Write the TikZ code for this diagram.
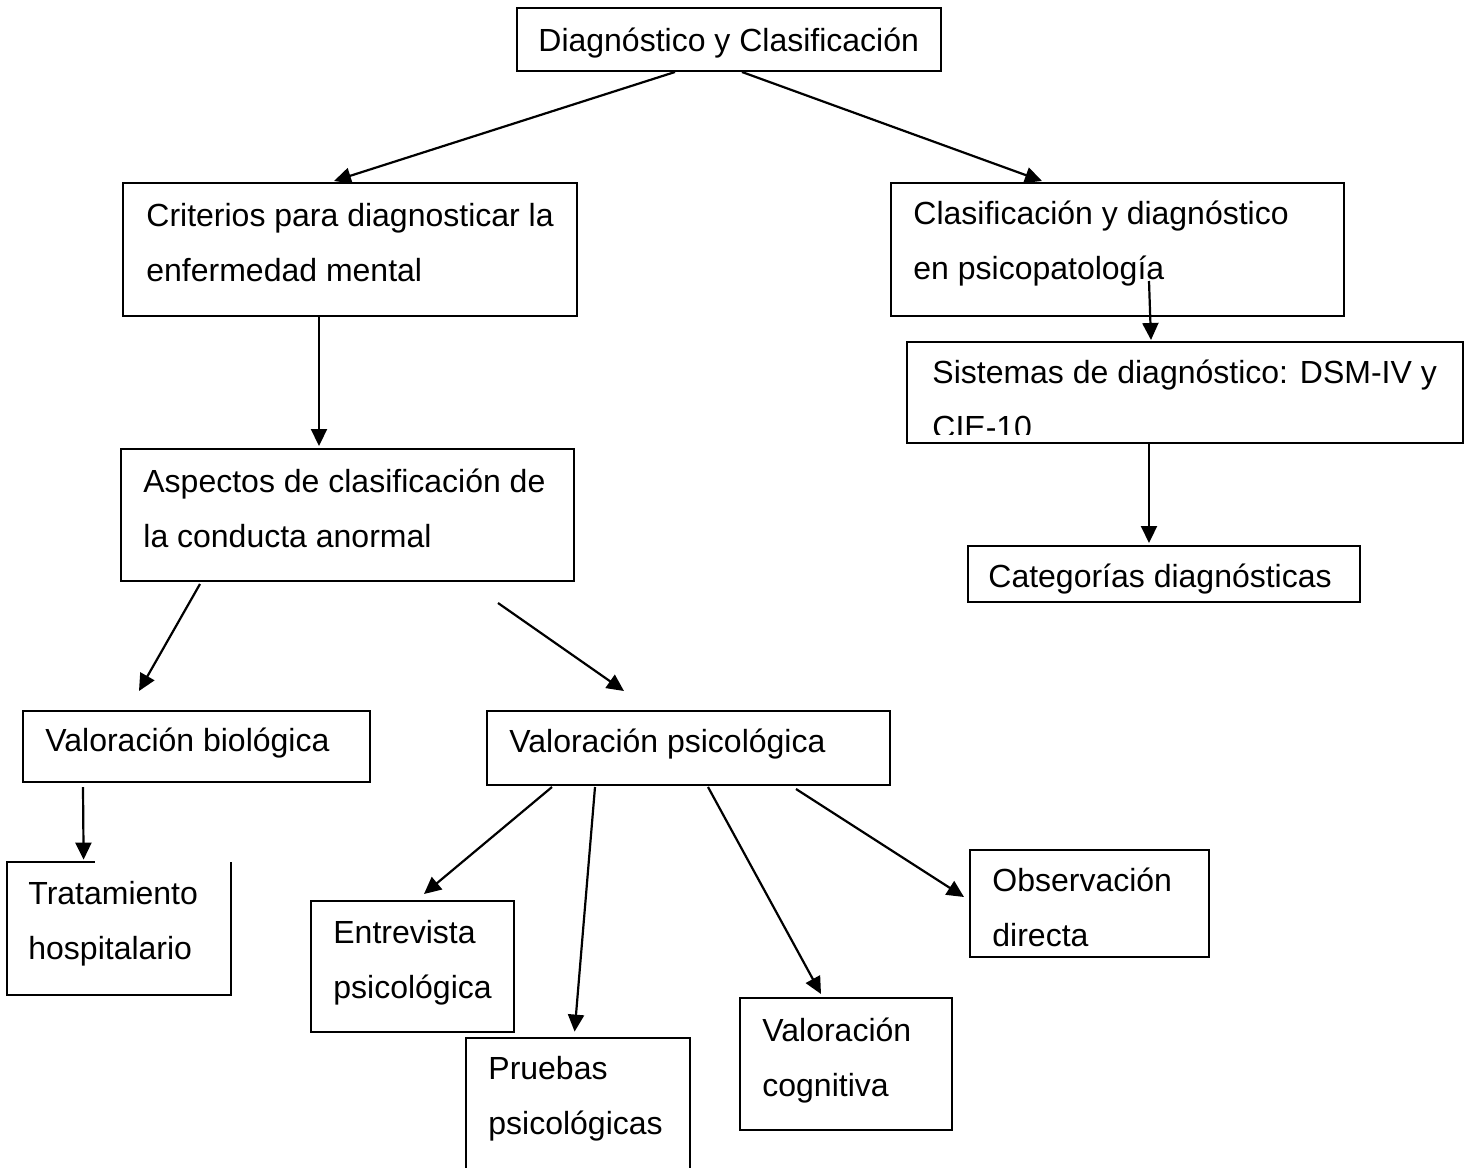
\documentclass[tikz,border=0pt]{standalone}
\usepackage{fontspec}
\setmainfont{Liberation Sans}
\usetikzlibrary{arrows.meta,fit,calc}
\begin{document}
\begin{tikzpicture}[x=0.5pt,y=-0.5pt,
  box/.style={draw, line width=1pt, inner sep=0pt},
  frame/.style={inner sep=0pt},
  edge/.style={line width=1pt},
  txt/.style={anchor=base west, inner sep=0pt, align=left,
              font=\fontsize{16}{27.5}\selectfont},
  arr/.style={line width=1.1pt, -{Triangle[length=8.5pt,width=8pt]}}]
\useasboundingbox[fill=white] (0,0) rectangle (1472,1167);

% boxes
\node[box, fit={(517,8) (941,71)}] (top) {};
\node[box, fit={(123,183) (577,316)}] (crit) {};
\node[box, fit={(891,183) (1344,316)}] (clas) {};
\node[box, fit={(907,342) (1463,443)}] (sis) {};
\node[box, fit={(968,546) (1360,602)}] (cat) {};
\node[box, fit={(121,449) (574,581)}] (asp) {};
\node[box, fit={(23,711) (370,782)}] (vbio) {};
\node[box, fit={(487,711) (890,785)}] (vpsi) {};
\node[frame, fit={(7,862) (231,995)}] (trat) {};
\draw[edge] ($(trat.north west)+(88,0)$) -- (trat.north west) -- (trat.south west)
  -- (trat.south east) -- (trat.north east);
\node[box, fit={(311,901) (514,1032)}] (ent) {};
\node[frame, fit={(466,1038) (690,1167)}] (pru) {};
\draw[edge] ([yshift=-2pt]pru.south west) -- (pru.north west) -- (pru.north east)
  -- ([yshift=-2pt]pru.south east);
\node[box, fit={(740,998) (952,1130)}] (vcog) {};
\node[box, fit={(970,850) (1209,957)}] (obs) {};

% texts (two-line texts are placed by the baseline of their last line)
\node[txt] (ttop) at (538,51) {Diagnóstico y Clasificación};
\node[txt] (tcrit) at (146,281) {Criterios para diagnosticar la\\enfermedad mental};
\node[txt] (tclas) at (913,279) {Clasificación y diagnóstico\\en psicopatología};
\begin{scope}
  \clip (907,342) rectangle (1463,434);
  \node[txt] (tsis) at (932,438) {Sistemas de diagnóstico: DSM-IV y\\CIE-10};
\end{scope}
\node[txt] (tcat) at (988,587) {Categorías diagnósticas};
\node[txt] (tasp) at (143,547) {Aspectos de clasificación de\\la conducta anormal};
\node[txt] (tvbio) at (45,751) {Valoración biológica};
\node[txt] (tvpsi) at (509,752) {Valoración psicológica};
\node[txt] (ttrat) at (28,959) {Tratamiento\\hospitalario};
\node[txt] (tent) at (333,998) {Entrevista\\psicológica};
\node[txt] (tpru) at (488,1134) {Pruebas\\psicológicas};
\node[txt] (tvcog) at (762,1096) {Valoración\\cognitiva};
\node[txt] (tobs) at (992,946) {Observación\\directa};

% connectors
\draw[arr] ($(top.south west)+(159,0)$) -- ($(crit.north west)+(212,-1)$);
\draw[arr] ($(top.south west)+(226,0)$) -- ($(clas.north west)+(152,-1)$);
\draw[arr] ($(crit.south west)+(197,0)$) -- ($(asp.north west)+(199,-2)$);
\draw[arr] ($(clas.south west)+(259,-36)$) -- ($(sis.north west)+(245,-1)$);
\draw[arr] ($(sis.south west)+(243,0)$) -- ($(cat.north west)+(182,-2)$);
\draw[arr] ($(asp.south west)+(80,2)$) -- ($(vbio.north west)+(117,-19)$);
\draw[arr] ($(asp.south west)+(378,21)$) -- ($(vpsi.north west)+(138,-19)$);
\draw[arr] ($(vbio.south west)+(61,4)$) -- ($(trat.north west)+(77,-2)$);
\draw[arr] ($(vpsi.south west)+(66,1)$) -- ($(ent.north west)+(114,-6)$);
\draw[arr] ($(vpsi.south west)+(109,1)$) -- ($(pru.north west)+(109,-6)$);
\draw[arr] ($(vpsi.south west)+(222,1)$) -- ($(vcog.north west)+(82,-3)$);
\draw[arr] ($(vpsi.south west)+(310,3)$) -- ($(obs.north west)+(-5,48)$);
\end{tikzpicture}
\end{document}
